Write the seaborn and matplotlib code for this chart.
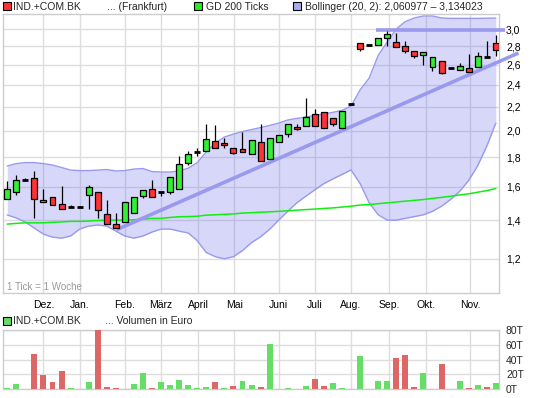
import numpy as np
import matplotlib
matplotlib.use("Agg")
import matplotlib.pyplot as plt
from matplotlib.patches import Rectangle
from matplotlib.ticker import FixedLocator, NullLocator
import seaborn as sns
import pandas as pd

# weekly candles, 1 tick = 1 week (Dez. .. Nov.)
opens = [1.521, 1.568, 1.641, 1.654, 1.503, 1.533, 1.491, 1.473, 1.473, 1.549,
         1.564, 1.433, 1.377, 1.388, 1.438, 1.539, 1.583, 1.564, 1.564, 1.583,
         1.756, 1.834, 1.844, 1.917, 1.902, 1.864, 1.856, 1.820, 1.909, 1.784,
         1.909, 1.971, 2.027, 2.040, 2.137, 2.152, 2.101, 2.019, 2.222, 2.840,
         2.811, 2.814, 2.891, 2.845, 2.807, 2.751, 2.705, 2.581, 2.643, 2.571,
         2.547, 2.565, 2.581, 2.688, 2.840]
highs = [1.636, 1.676, 1.658, 1.703, 1.585, 1.533, 1.604, 1.485, 1.480, 1.610,
         1.564, 1.515, 1.442, 1.503, 1.533, 1.577, 1.643, 1.565, 1.660, 1.808,
         1.844, 1.864, 2.054, 2.046, 1.940, 1.864, 1.992, 1.927, 2.050, 1.946,
         1.966, 2.051, 2.054, 2.276, 2.178, 2.152, 2.101, 2.163, 2.222, 2.840,
         2.811, 2.891, 2.980, 2.956, 2.856, 2.751, 2.740, 2.686, 2.643, 2.571,
         2.623, 2.715, 2.734, 2.860, 2.929]
lows = [1.521, 1.547, 1.641, 1.413, 1.503, 1.485, 1.462, 1.473, 1.473, 1.463,
        1.413, 1.377, 1.355, 1.388, 1.438, 1.527, 1.533, 1.541, 1.552, 1.583,
        1.742, 1.808, 1.844, 1.870, 1.869, 1.820, 1.835, 1.820, 1.772, 1.784,
        1.909, 1.952, 2.006, 2.040, 2.040, 2.019, 2.040, 2.019, 2.222, 2.751,
        2.811, 2.814, 2.800, 2.789, 2.729, 2.675, 2.604, 2.537, 2.507, 2.571,
        2.547, 2.524, 2.581, 2.686, 2.694]
closes = [1.583, 1.641, 1.641, 1.521, 1.515, 1.485, 1.462, 1.474, 1.473, 1.596,
          1.456, 1.377, 1.355, 1.503, 1.533, 1.577, 1.533, 1.565, 1.660, 1.749,
          1.820, 1.837, 1.932, 1.870, 1.887, 1.827, 1.835, 1.927, 1.772, 1.940,
          1.966, 2.051, 2.011, 2.110, 2.040, 2.019, 2.051, 2.163, 2.222, 2.767,
          2.811, 2.891, 2.941, 2.789, 2.751, 2.697, 2.740, 2.686, 2.520, 2.571,
          2.588, 2.524, 2.694, 2.686, 2.759]

# volume in thousand euro (T)
volume_t = [2, 7, 0, 48, 19, 9.5, 24.5, 2, 0, 9.4,
            80, 3.1, 1.8, 0, 6.7, 21.6, 1.8, 9.4, 5.4, 12.1,
            5.4, 1.3, 2.7, 9.4, 1.3, 4, 10.8, 5.4, 2.7, 60.7,
            0, 1.5, 0, 4, 13.5, 4, 8, 1.5, 0, 45,
            0, 11, 11, 42, 46, 3, 22, 0, 34, 0,
            11, 1.5, 5.5, 3, 8]

gd200 = [1.378, 1.382, 1.385, 1.385, 1.385, 1.388, 1.390, 1.393, 1.393, 1.395,
         1.398, 1.400, 1.400, 1.400, 1.402, 1.405, 1.410, 1.410, 1.415, 1.419,
         1.420, 1.422, 1.428, 1.430, 1.433, 1.435, 1.440, 1.442, 1.445, 1.447,
         1.450, 1.453, 1.457, 1.460, 1.463, 1.467, 1.470, 1.475, 1.480, 1.487,
         1.490, 1.495, 1.500, 1.505, 1.510, 1.515, 1.520, 1.527, 1.533, 1.540,
         1.548, 1.555, 1.565, 1.575, 1.588]

boll_upper = [1.737, 1.754, 1.761, 1.761, 1.754, 1.744, 1.727, 1.709, 1.706, 1.706,
              1.709, 1.713, 1.703, 1.706, 1.716, 1.720, 1.699, 1.696, 1.696, 1.703,
              1.722, 1.761, 1.837, 1.904, 1.950, 1.973, 1.993, 2.009, 2.025, 2.042,
              2.062, 2.087, 2.100, 2.112, 2.125, 2.137, 2.152, 2.168, 2.207, 2.353,
              2.467, 2.700, 2.850, 3.000, 3.090, 3.135, 3.160, 3.160, 3.135, 3.130,
              3.130, 3.130, 3.130, 3.132, 3.134]
boll_lower = [1.429, 1.412, 1.389, 1.356, 1.324, 1.308, 1.303, 1.314, 1.351, 1.367,
              1.373, 1.367, 1.340, 1.314, 1.303, 1.314, 1.335, 1.351, 1.351, 1.340,
              1.330, 1.290, 1.230, 1.210, 1.200, 1.210, 1.240, 1.280, 1.310, 1.350,
              1.400, 1.450, 1.500, 1.540, 1.580, 1.620, 1.650, 1.680, 1.710, 1.620,
              1.500, 1.430, 1.400, 1.400, 1.410, 1.420, 1.430, 1.450, 1.480, 1.520,
              1.570, 1.640, 1.740, 1.880, 2.061]

# trend lines (week index, price)
trend_x = [12.1, 56.5]
trend_y = [1.348, 2.726]
resist_x = [40.8, 55.0]
resist_y = [2.988, 2.988]

month_pos = [4, 8, 13, 17, 21.1, 25.1, 30, 34, 38, 42.2, 46.3, 51.2]
month_labels = ["Dez.", "Jan.", "Feb.", "März", "April", "Mai", "Juni",
                "Juli", "Aug.", "Sep.", "Okt.", "Nov."]
price_ticks = [1.2, 1.4, 1.6, 1.8, 2.0, 2.2, 2.4, 2.6, 2.8, 3.0]
vol_ticks = [0, 20, 40, 60, 80]

df = pd.DataFrame({"week": np.arange(len(opens)), "open": opens, "high": highs,
                   "low": lows, "close": closes, "vol": volume_t, "gd": gd200,
                   "up": boll_upper, "lo": boll_lower})

sns.set_style("white")
plt.rcParams["font.family"] = ["Liberation Sans", "DejaVu Sans"]

W, H = 545, 398
fig = plt.figure(figsize=(W / 100, H / 100), dpi=100)
ax = fig.add_axes([3 / W, 1 - 293 / H, 496 / W, 279 / H])
axv = fig.add_axes([3 / W, 1 - 389 / H, 496 / W, 59 / H], sharex=ax)

RED = "#ff3333"
GREEN = "#33ee33"
LAV = "#9999ee"
GRID = "#dddddd"

# bollinger band
ax.fill_between(df["week"], df["lo"], df["up"], color="#6666ee", alpha=0.26, lw=0, zorder=1)
ax.plot(df["week"], df["up"], color=LAV, lw=1, zorder=2)
ax.plot(df["week"], df["lo"], color=LAV, lw=1, zorder=2)

# GD 200
sns.lineplot(data=df, x="week", y="gd", ax=ax, color="#11ee11", lw=1.1, zorder=3)

# trend lines
ax.plot(trend_x, trend_y, color=LAV, lw=2.6, solid_capstyle="butt", clip_on=False, zorder=4)
ax.plot(resist_x, resist_y, color=LAV, lw=2.6, solid_capstyle="butt", clip_on=False, zorder=4)

# candles
ax.vlines(df["week"], df["low"], df["high"], color="black", lw=0.9, zorder=5)
for _, r in df.iterrows():
    o, c = r["open"], r["close"]
    if abs(c - o) / o < 0.0025:
        ax.hlines(c, r["week"] - 0.33, r["week"] + 0.33, color="black", lw=2, zorder=6)
    else:
        ax.bar(r["week"], abs(c - o), bottom=min(o, c), width=0.66,
               color=GREEN if c > o else RED, edgecolor="black", lw=0.9, zorder=6)

ax.set_yscale("log")
ax.set_ylim(1.047, 3.185)
ax.set_xlim(-0.47, 54.35)
ax.yaxis.set_major_locator(FixedLocator(price_ticks))
ax.yaxis.set_minor_locator(NullLocator())
ax.set_yticklabels([f"{t:.1f}".replace(".", ",") for t in price_ticks])
ax.yaxis.tick_right()
ax.set_xticks(month_pos)
ax.set_xticklabels(month_labels)
ax.tick_params(axis="both", length=0, labelsize=7.5, colors="black")
ax.tick_params(axis="y", pad=5)
ax.tick_params(axis="x", pad=5)
ax.grid(True, color=GRID, lw=1)
ax.set_axisbelow(True)
ax.set_xlabel("")
ax.set_ylabel("")
for s in ax.spines.values():
    s.set_color("#cccccc")
    s.set_linewidth(1)
ax.text(0.008, 0.005, "1 Tick = 1 Woche", transform=ax.transAxes, fontsize=7,
        color="#999999", va="bottom", ha="left")

# volume panel
prev = [closes[0] - 1] + closes[:-1]
vcol = ["#66dd66" if c >= p else "#dd6666" for c, p in zip(closes, prev)]
axv.bar(df["week"], df["vol"], width=0.66, color=vcol, lw=0, zorder=3)
axv.set_ylim(0, 80)
axv.yaxis.set_major_locator(FixedLocator(vol_ticks))
axv.set_yticklabels([f"{t}T" for t in vol_ticks])
axv.yaxis.tick_right()
axv.tick_params(axis="both", length=0, labelsize=7.5)
axv.tick_params(axis="y", pad=5)
axv.tick_params(axis="x", labelbottom=False)
axv.grid(True, color=GRID, lw=1)
axv.set_axisbelow(True)
for s in axv.spines.values():
    s.set_color("#cccccc")
    s.set_linewidth(1)


def legend_box(x, y, color):
    fig.add_artist(Rectangle((x / W, 1 - (y + 8) / H), 8 / W, 8 / H, transform=fig.transFigure,
                             facecolor=color, edgecolor="black", lw=0.8))


def legend_text(x, y, s):
    fig.text(x / W, 1 - y / H, s, fontsize=7.5, va="center", ha="left")


legend_box(3, 2, RED)
legend_text(13, 6.5, "IND.+COM.BK")
legend_text(107, 6.5, "... (Frankfurt)")
legend_box(194, 2, "#22ee22")
legend_text(206, 6.5, "GD 200 Ticks")
legend_box(293, 2, "#aaaaee")
legend_text(305, 6.5, "Bollinger (20, 2): 2,060977 \u2013 3,134023")

legend_box(3, 317, "#66dd66")
legend_text(13, 321.5, "IND.+COM.BK")
legend_text(105, 321.5, "... Volumen in Euro")

fig.savefig("out.png", dpi=100)
